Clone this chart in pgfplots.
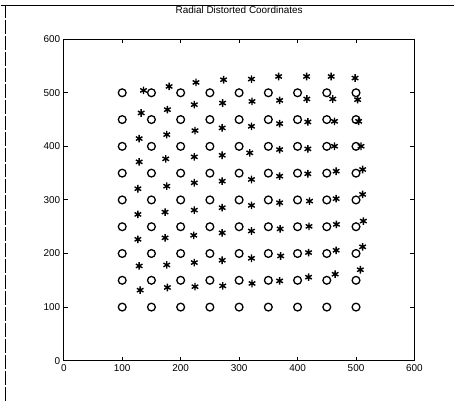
\documentclass[border=0pt]{standalone}
\usepackage{pgfplots}
\pgfplotsset{compat=1.18}
\usepackage{fontspec}
\setmainfont{Liberation Sans}
\begin{document}
\begin{tikzpicture}
\path (-63.3bp,-40.3bp) rectangle (391.7bp,361.7bp);
\draw[line width=1.3pt] (-63.3bp,356bp) -- (391.7bp,356bp);
\draw[line width=0.9pt, dash pattern=on 14bp off 2bp] (-58.3bp,-40.3bp) -- (-58.3bp,356bp);
\begin{axis}[
  at={(0,0)}, anchor=south west,
  scale only axis, width=351.7bp, height=322.4bp,
  xmin=0, xmax=600, ymin=0, ymax=600,
  xtick={0,100,...,600}, ytick={0,100,...,600},
  tick align=inside, major tick length=4bp,
  axis line style={line width=1.3pt},
  every tick/.style={line width=0.9pt, black},
  tick label style={font=\fontsize{10}{11}\selectfont},
  /pgf/number format/assume math mode=true,
  title={Radial Distorted Coordinates},
  title style={font=\fontsize{10}{12}\selectfont, at={(0.5,1)}, anchor=center, yshift=23bp},
  clip=false,
]
\addplot[only marks, mark=o, mark size=3.9bp, line width=1.3pt] coordinates {
(100,100)(150,100)(200,100)(250,100)(300,100)(350,100)(400,100)(450,100)(500,100)
(100,150)(150,150)(200,150)(250,150)(300,150)(350,150)(400,150)(450,150)(500,150)
(100,200)(150,200)(200,200)(250,200)(300,200)(350,200)(400,200)(450,200)(500,200)
(100,250)(150,250)(200,250)(250,250)(300,250)(350,250)(400,250)(450,250)(500,250)
(100,300)(150,300)(200,300)(250,300)(300,300)(350,300)(400,300)(450,300)(500,300)
(100,350)(150,350)(200,350)(250,350)(300,350)(350,350)(400,350)(450,350)(500,350)
(100,400)(150,400)(200,400)(250,400)(300,400)(350,400)(400,400)(450,400)(500,400)
(100,450)(150,450)(200,450)(250,450)(300,450)(350,450)(400,450)(450,450)(500,450)
(100,500)(150,500)(200,500)(250,500)(300,500)(350,500)(400,500)(450,500)(500,500)
};
\addplot[only marks, mark=asterisk, mark size=3.8bp, line width=1.4pt] coordinates {
(136.4,504.4)(180.2,511.8)(226.2,519.3)(273.4,524.3)(321.1,525.6)(367.6,530.4)(415.4,530.4)(457.5,530.4)(498.4,527.5)
(132.4,462.3)(177.3,468.5)(223.3,477.8)(271.7,480.9)(322.1,483.9)(369.3,485.8)(415.9,488.4)(460.2,488.4)(502.8,487.1)
(129.0,414.5)(176.2,421.9)(224.5,429.4)(271.0,434.4)(321.1,437.4)(369.3,442.4)(417.6,445.6)(463.1,446.7)(504.5,446.7)
(129.0,371.1)(174.5,376.7)(223.3,380.4)(271.0,383.4)(318.2,387.9)(369.3,394.0)(417.6,395.3)(463.1,400.2)(508.6,400.2)
(126.8,320.9)(176.2,325.7)(223.3,332.0)(271.0,335.0)(321.1,338.2)(369.3,344.3)(417.6,348.8)(466.0,353.6)(511.3,356.8)
(126.8,273.0)(173.3,277.3)(223.3,281.0)(271.0,285.5)(321.1,289.8)(369.3,294.8)(420.5,297.8)(466.0,302.3)(511.3,310.3)
(126.8,226.5)(173.3,229.3)(222.4,234.0)(271.0,238.6)(321.1,242.0)(370.2,246.0)(419.6,250.7)(466.5,254.4)(512.5,260.6)
(129.0,176.8)(176.2,178.7)(223.3,183.1)(271.0,187.4)(321.1,191.1)(371.1,195.4)(418.8,201.8)(466.0,206.0)(511.3,212.5)
(130.7,131.6)(177.3,136.6)(224.5,138.1)(272.0,139.6)(322.1,144.1)(369.3,148.9)(418.8,155.8)(464.3,161.4)(507.4,169.7)
};
\end{axis}
\end{tikzpicture}
\end{document}
